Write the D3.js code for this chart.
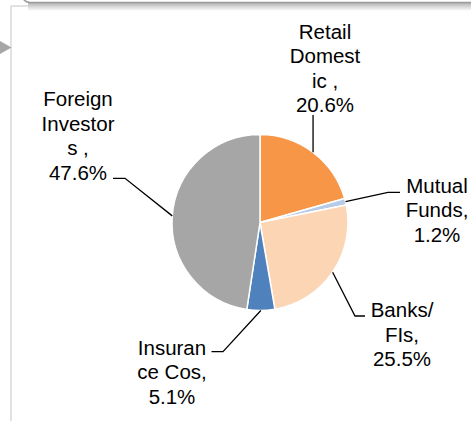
<!DOCTYPE html>
<html>
<head>
<meta charset="utf-8">
<script src="https://cdn.jsdelivr.net/npm/d3@7"></script>
<style>
  html, body { margin: 0; padding: 0; background: #fff; }
  svg { display: block; }
  text { font-family: "Liberation Sans", Arial, sans-serif; }
</style>
</head>
<body>
<svg id="chart" width="471" height="421"></svg>
<script>
// ---- data ----
const categories = ["Retail Domestic", "Mutual Funds", "Banks/ FIs", "Insurance Cos", "Foreign Investors"];
const values = [20.6, 1.2, 25.5, 5.1, 47.6];
const labelNameLines = [
  ["Retail", "Domest", "ic ,"],
  ["Mutual", "Funds,"],
  ["Banks/", "FIs,"],
  ["Insuran", "ce Cos,"],
  ["Foreign", "Investor", "s ,"]
];
const colors = ["#F79646", "#B7CBE6", "#FCD5B5", "#4F81BD", "#A6A6A6"];

// ---- layout ----
const W = 471, H = 421;
const cx = 260, cy = 222.5, R = 88;
const lineH = 24.5;
const labelLayout = [
  { x: 325, y: 38.5, leader: [[313, 115]] },
  { x: 437, y: 192.5, leader: [[388, 192.3], [400, 192.3]] },
  { x: 402, y: 317, leader: [[355, 316], [365, 316]] },
  { x: 172, y: 354.5, leader: [[223, 351.7], [211.5, 351.7]] },
  { x: 78, y: 106, leader: [[125, 178.3], [113, 178.3]] }
];

const svg = d3.select("#chart");

// frame decorations
const defs = svg.append("defs");
const g1 = defs.append("linearGradient").attr("id", "shadow").attr("x1", 0).attr("y1", 0).attr("x2", 0).attr("y2", 1);
g1.append("stop").attr("offset", "0%").attr("stop-color", "#b5b5b5");
g1.append("stop").attr("offset", "100%").attr("stop-color", "#ffffff");

svg.append("line").attr("x1", 11).attr("y1", 6).attr("x2", 11).attr("y2", H)
  .attr("stroke", "#d9d9d9").attr("stroke-width", 1.5);
svg.append("line").attr("x1", 11).attr("y1", 6).attr("x2", W).attr("y2", 6)
  .attr("stroke", "#d9d9d9").attr("stroke-width", 1.5);
svg.append("rect").attr("x", 28).attr("y", 3).attr("width", W).attr("height", 8)
  .attr("fill", "url(#shadow)");
svg.append("rect").attr("x", 22).attr("y", -20).attr("width", W + 20).attr("height", 22.5)
  .attr("rx", 8).attr("fill", "#fff").attr("stroke", "#9a9a9a").attr("stroke-width", 1.5);
svg.append("path").attr("d", "M0,41 L11.5,47.5 L0,54 Z").attr("fill", "#a6a6a6");

// pie
const pie = d3.pie().sort(null).value(d => d).startAngle(0).endAngle(2 * Math.PI);
const arcs = pie(values);
const arc = d3.arc().innerRadius(0).outerRadius(R);
const edgeArc = d3.arc().innerRadius(R).outerRadius(R);

const gPie = svg.append("g").attr("transform", `translate(${cx},${cy})`);
gPie.selectAll("path.slice").data(arcs).join("path")
  .attr("class", "slice")
  .attr("d", arc)
  .attr("fill", (d, i) => colors[i])
  .attr("stroke", "#fff")
  .attr("stroke-width", 1.5)
  .attr("stroke-linejoin", "round");

// leader lines
const line = d3.line();
arcs.forEach((a, i) => {
  const c = edgeArc.centroid(a);
  const start = [cx + c[0], cy + c[1]];
  let pts = labelLayout[i].leader.map(p => p.slice());
  if (i === 0) pts[0][0] = start[0];
  svg.append("path")
    .attr("d", line([start, ...pts]))
    .attr("fill", "none")
    .attr("stroke", "#000")
    .attr("stroke-width", 1.3);
});

// labels
arcs.forEach((a, i) => {
  const lines = labelNameLines[i].concat([values[i].toFixed(1) + "%"]);
  const L = labelLayout[i];
  const t = svg.append("text")
    .attr("text-anchor", "middle")
    .attr("font-size", "20.5px")
    .attr("fill", "#000");
  lines.forEach((s, k) => {
    t.append("tspan").attr("x", L.x).attr("y", L.y + k * lineH).text(s);
  });
});
</script>
</body>
</html>
